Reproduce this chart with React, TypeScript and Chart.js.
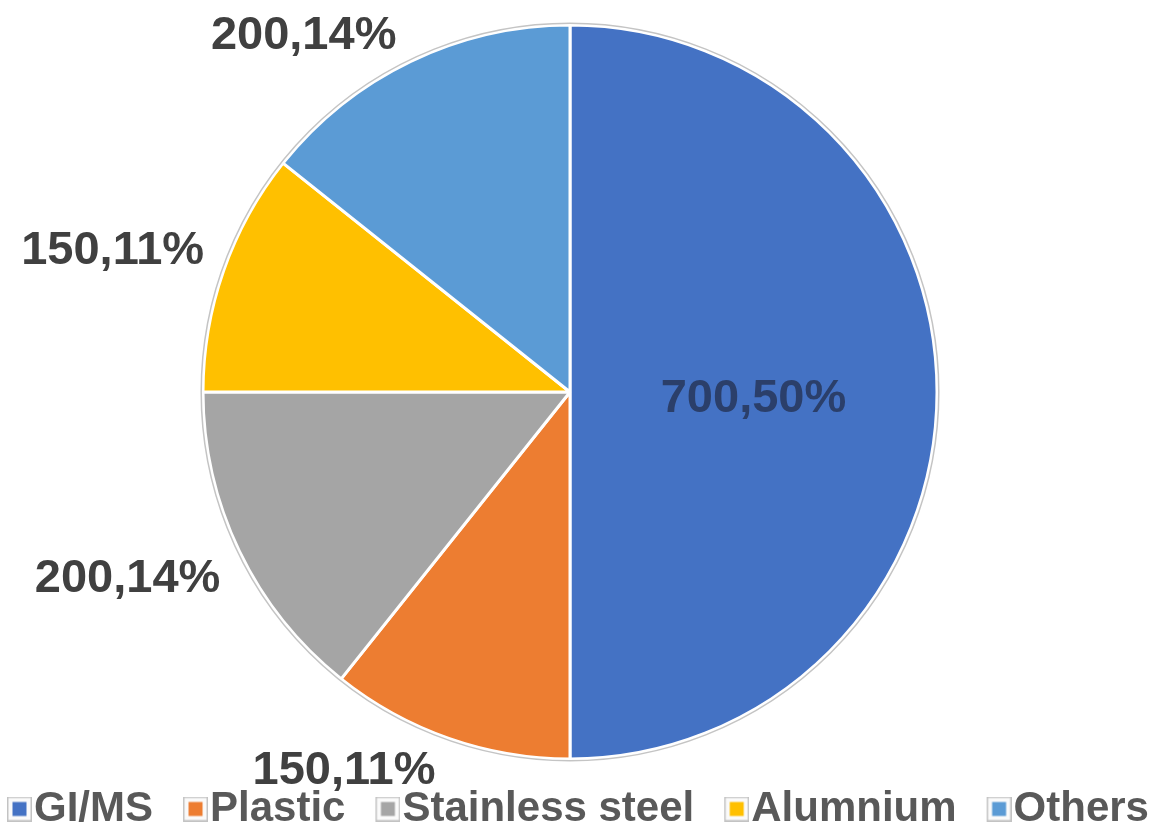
import { useEffect, useRef } from "react";
import { Chart, registerables } from "chart.js";

Chart.register(...registerables);

const categories = ["GI/MS", "Plastic", "Stainless steel", "Alumnium", "Others"];
const values = [700, 150, 200, 150, 200];
const colors = ["#4472C4", "#ED7D31", "#A5A5A5", "#FFC000", "#5B9BD5"];

const FONT = '"Liberation Sans", Arial, Helvetica, sans-serif';

function makeSwatch(color: string): HTMLCanvasElement {
  // wide transparent canvas; the visible box sits at its right end
  const c = document.createElement("canvas");
  c.width = 72;
  c.height = 25;
  const g = c.getContext("2d")!;
  const bx = 47;
  g.fillStyle = "#fafafa";
  g.fillRect(bx, 0, 25, 25);
  g.strokeStyle = "#c3c3c3";
  g.lineWidth = 1.5;
  g.strokeRect(bx + 0.75, 0.75, 23.5, 23.5);
  g.fillStyle = color;
  g.fillRect(bx + 5.5, 5.5, 14, 14);
  return c;
}

export default function App() {
  const ref = useRef<HTMLCanvasElement>(null);

  useEffect(() => {
    if (!ref.current) return;
    const total = values.reduce((a, b) => a + b, 0);
    const swatches = colors.map(makeSwatch);

    const labelPlugin = {
      id: "sliceLabels",
      afterDatasetsDraw(chart: any) {
        const ctx = chart.ctx as CanvasRenderingContext2D;
        const meta = chart.getDatasetMeta(0);
        ctx.save();
        const first = meta.data[0].getProps(["x", "y", "outerRadius"], true);
        ctx.beginPath();
        ctx.arc(first.x, first.y, first.outerRadius + 1.8, 0, Math.PI * 2);
        ctx.strokeStyle = "#c4c4c4";
        ctx.lineWidth = 1.5;
        ctx.stroke();

        ctx.font = `bold 47px ${FONT}`;
        meta.data.forEach((arc: any, i: number) => {
          const p = arc.getProps(["x", "y", "startAngle", "endAngle", "outerRadius"], true);
          const mid = (p.startAngle + p.endAngle) / 2;
          const dx = Math.cos(mid);
          const dy = Math.sin(mid);
          const v = values[i];
          const text = `${v},${Math.round((v / total) * 100)}%`;
          if (v / total >= 0.3) {
            ctx.fillStyle = "#2b3f6a";
            ctx.textAlign = "center";
            ctx.textBaseline = "alphabetic";
            ctx.fillText(text, p.x + dx * p.outerRadius * 0.5, p.y + dy * p.outerRadius * 0.5 + 20);
          } else {
            const gap = 10;
            const px = p.x + dx * (p.outerRadius + gap) + 10 * Math.sign(dx);
            const py = p.y + dy * (p.outerRadius + gap);
            ctx.fillStyle = "#404040";
            ctx.textAlign = dx < 0 ? "right" : "left";
            ctx.textBaseline = dy < 0 ? "alphabetic" : "top";
            ctx.fillText(text, px, py - (dy < 0 ? 3 : 0));
          }
        });
        ctx.restore();
      },
    };

    const chart = new Chart(ref.current, {
      type: "pie",
      data: {
        labels: categories,
        datasets: [
          {
            data: values,
            backgroundColor: colors,
            borderColor: "#ffffff",
            borderWidth: 3,
            radius: 367,
          } as any,
        ],
      },
      options: {
        responsive: false,
        animation: false,
        devicePixelRatio: 1,
        layout: { padding: { left: 0, right: 4, top: 0, bottom: 0 } },
        plugins: {
          tooltip: { enabled: false },
          legend: {
            position: "bottom",
            align: "start",
            labels: {
              usePointStyle: true,
              boxWidth: 34,
              padding: 2,
              color: "#595959",
              font: { size: 42, weight: "bold", family: FONT },
              generateLabels: () =>
                categories.map((c, i) => ({
                  text: c,
                  pointStyle: swatches[i] as any,
                  fillStyle: colors[i],
                  strokeStyle: colors[i],
                  lineWidth: 0,
                  hidden: false,
                  index: i,
                  datasetIndex: 0,
                  fontColor: "#595959",
                })),
            },
          },
        },
      },
      plugins: [labelPlugin],
    });
    return () => chart.destroy();
  }, []);

  return (
    <div
      style={{
        position: "fixed",
        left: 0,
        top: 0,
        width: 1165,
        height: 831,
        overflow: "hidden",
        background: "#ffffff",
      }}
    >
      <canvas
        ref={ref}
        width={1190}
        height={842}
        style={{ display: "block", position: "absolute", left: -23, top: -2, width: 1190, height: 842 }}
      />
    </div>
  );
}
